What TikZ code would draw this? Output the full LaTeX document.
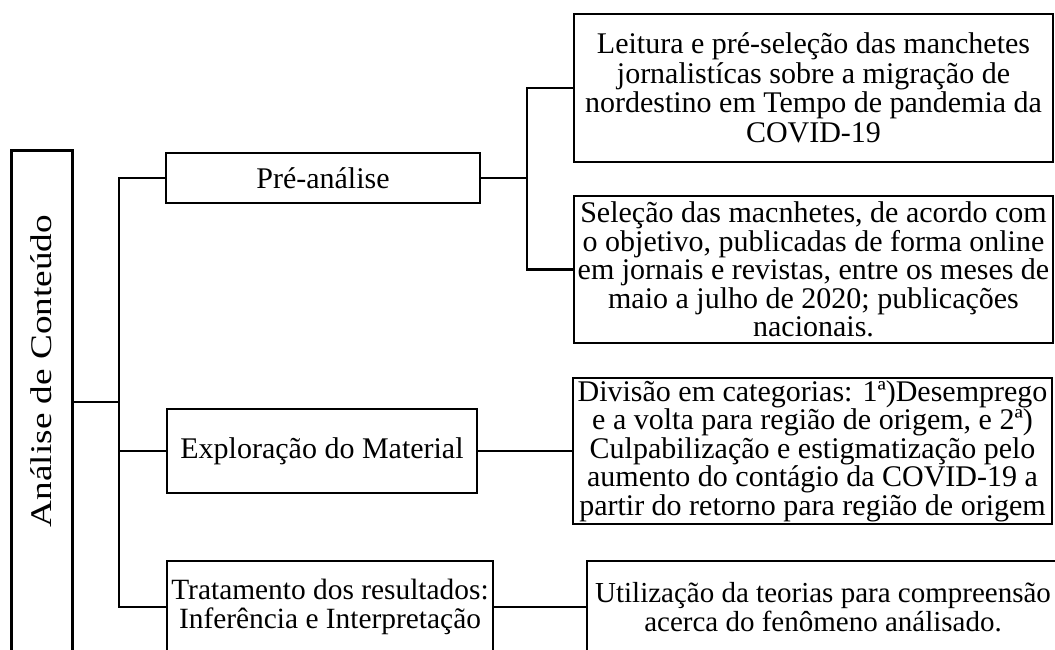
\documentclass[tikz,border=0pt]{standalone}
\usepackage{fontspec}
\setmainfont{Liberation Serif}
\begin{document}
\begin{tikzpicture}[x=1pt,y=-1pt,
  box/.style={draw, line width=2.8pt, inner sep=0pt, align=center, font=\fontsize{30}{28.5}\selectfont},
  conn/.style={line width=2.8pt}]
\useasboundingbox (0,0) rectangle (1055,649);
% root box (open at the bottom of the picture)
\node[box, minimum width=61pt, minimum height=540pt, anchor=north west] (root) at (10,149) {};
\node[font=\fontsize{30}{28.5}\selectfont, rotate=90] (roottext) at (41,371) {\scalebox{1.24}[1]{Análise de Conteúdo}};
% level 1
\node[box, minimum width=314pt, minimum height=50pt] (pre) at (323,178) {Pré-análise};
\node[box, minimum width=310pt, minimum height=84pt] (expl) at (322,451) {Exploração do Material};
\node[box, minimum width=326pt, minimum height=92pt, font=\fontsize{29.4}{28.5}\selectfont] (trat) at (330,607) {Tratamento dos resultados:\\Inferência e Interpretação};
% level 2
\node[box, minimum width=479pt, minimum height=148pt, font=\fontsize{30}{29.5}\selectfont] (b1) at (813.5,88) {Leitura e pré-seleção das manchetes\\jornalistícas sobre a migração de\\nordestino em Tempo de pandemia da\\COVID-19};
\node[box, minimum width=479pt, minimum height=147pt] (b2) at (813.5,269.5) {Seleção das macnhetes, de acordo com\\o objetivo, publicadas de forma online\\em jornais e revistas, entre os meses de\\maio a julho de 2020; publicações\\nacionais.};
\node[box, minimum width=479pt, minimum height=146pt] (b3) at (812.5,451) {Divisão em categorias: 1ª)Desemprego\\e a volta para região de origem, e 2ª)\\Culpabilização e estigmatização pelo\\aumento do contágio da COVID-19 a\\partir do retorno para região de origem};
\node[box, minimum width=472pt, minimum height=92pt, font=\fontsize{29}{28.5}\selectfont] (b4) at (823,607) {Utilização da teorias para compreensão\\acerca do fenômeno análisado.};
% junctions
\coordinate (j0) at (119,402);
\coordinate (j1) at (527,178);
% connectors
\draw[conn] (root.east |- j0) -- (j0);
\draw[conn] (pre.west) -- (pre.west -| j0) -- (trat.west -| j0) -- (trat.west);
\draw[conn] (expl.west -| j0) -- (expl.west);
\draw[conn] (pre.east) -- (j1);
\draw[conn] (b1.west) -- (b1.west -| j1) -- (b2.west -| j1) -- (b2.west);
\draw[conn] (expl.east) -- (b3.west);
\draw[conn] (trat.east) -- (b4.west);
\end{tikzpicture}
\end{document}
